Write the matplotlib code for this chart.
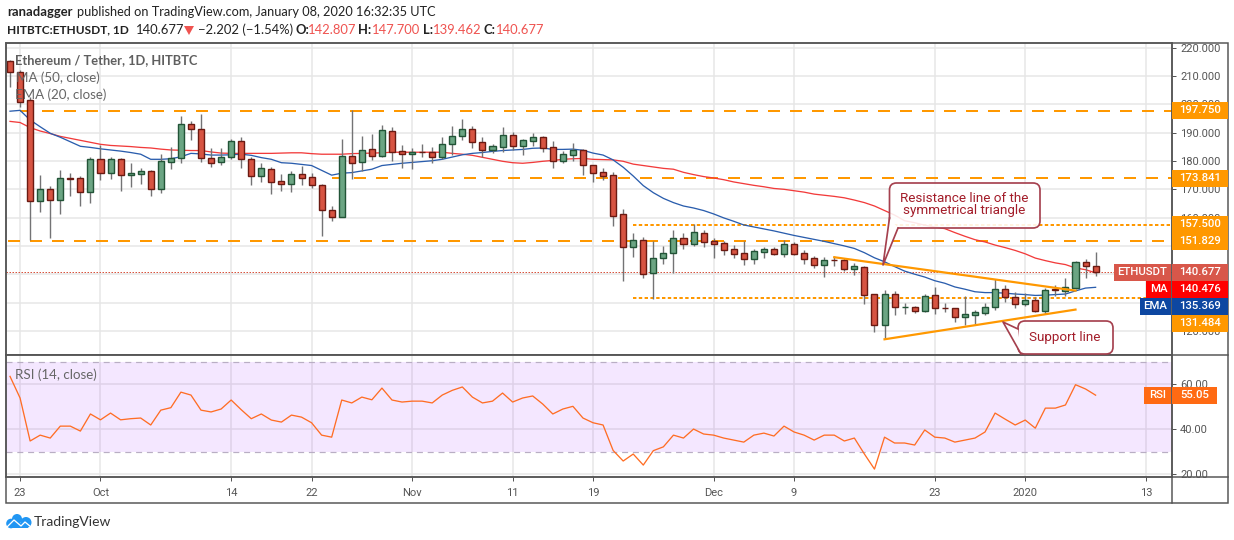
import matplotlib
matplotlib.use("Agg")
import matplotlib.pyplot as plt
from matplotlib.patches import Rectangle, FancyBboxPatch, Polygon, Circle

plt.rcParams['font.family'] = ['Roboto', 'DejaVu Sans']

# daily candles, 22 Sep 2019 to 8 Jan 2020
opens = [215.3, 211.3, 201.4, 165.8, 170.0, 166.1, 173.9, 173.9, 169.2, 180.6, 175.9, 180.6, 175.0, 175.5, 176.5,
         170.2, 179.8, 181.0, 193.0, 191.2, 181.0, 179.8, 181.3, 187.0, 180.6, 174.6, 177.1, 172.8, 172.0, 175.3,
         174.2, 171.4, 162.6, 160.3, 181.7, 179.5, 184.1, 181.7, 190.5, 183.4, 182.4,
         183.2, 183.1, 181.5, 185.9, 188.7, 191.2, 186.6, 183.8, 185.0, 189.1, 185.2, 187.2, 188.4, 184.8, 180.1,
         182.2, 183.8, 178.5, 176.1, 174.9, 161.2, 149.5, 152.0, 140.3, 145.9, 147.6, 152.7, 150.8, 154.4, 151.7,
         150.9, 148.8, 147.4, 145.5, 148.0, 148.8, 147.3, 150.6, 147.4, 145.6,
         143.4, 145.0, 144.9, 142.0, 142.4, 132.9, 121.9, 132.9, 128.4, 128.4, 127.1, 132.5, 128.1, 127.9, 124.9,
         125.7, 126.4, 128.3, 134.6, 131.8, 129.3, 130.8, 127.1, 134.9, 134.2, 135.1, 144.2, 142.807]
highs = [215.7, 212.0, 202.7, 175.0, 171.2, 176.8, 175.9, 174.7, 181.3, 185.7, 181.3, 181.0, 179.3, 177.4, 176.8,
         182.5, 185.0, 195.9, 194.2, 196.6, 184.5, 184.5, 187.7, 188.5, 181.5, 179.2, 178.0, 175.4, 176.5, 178.2,
         175.6, 171.9, 164.1, 187.8, 198.0, 189.0, 189.6, 192.7, 192.0, 185.7, 184.6,
         186.0, 185.0, 188.6, 192.4, 194.8, 192.4, 188.5, 186.0, 192.0, 190.2, 187.7, 189.9, 188.7, 187.0, 183.6,
         186.4, 184.2, 178.5, 177.4, 176.0, 163.0, 154.4, 153.1, 151.8, 150.0, 155.6, 154.4, 157.7, 155.6, 152.7,
         151.8, 150.3, 151.7, 148.9, 149.6, 149.6, 152.0, 151.4, 148.6, 146.4,
         146.0, 146.4, 145.6, 144.1, 142.9, 132.9, 134.4, 134.1, 130.0, 128.7, 133.0, 135.5, 130.0, 128.2, 132.3,
         127.3, 130.0, 138.3, 136.2, 133.6, 133.3, 132.0, 135.0, 136.2, 138.5, 144.7, 145.4, 147.7]
lows = [206.3, 199.0, 152.1, 162.1, 152.9, 161.2, 167.8, 164.2, 165.0, 173.3, 173.6, 169.4, 170.9, 171.9, 167.8,
        168.8, 177.3, 179.2, 187.3, 179.8, 177.8, 178.6, 180.8, 177.6, 171.5, 172.7, 168.5, 169.5, 169.2, 171.5,
        170.6, 153.6, 158.9, 160.3, 173.6, 176.5, 180.4, 181.3, 180.0, 177.6, 177.2,
        181.5, 179.2, 180.6, 182.2, 187.4, 184.7, 181.5, 182.7, 183.2, 183.9, 182.1, 185.3, 183.2, 177.7, 179.3,
        180.1, 175.1, 172.7, 173.3, 157.2, 137.7, 146.2, 138.8, 131.2, 143.7, 140.5, 149.0, 150.1, 149.7, 145.8,
        146.9, 145.8, 143.2, 143.7, 145.8, 146.8, 146.2, 146.8, 143.7, 142.3,
        139.1, 142.9, 141.2, 139.7, 129.5, 119.6, 117.0, 125.6, 125.8, 126.4, 126.8, 126.0, 126.8, 123.2, 122.0,
        122.4, 125.6, 127.3, 130.3, 128.2, 128.9, 126.5, 125.8, 132.4, 132.3, 134.7, 138.8, 139.462]
closes = [211.3, 201.0, 166.0, 170.0, 166.1, 173.9, 173.7, 169.2, 180.6, 175.9, 180.6, 175.0, 175.8, 176.5, 170.2,
          179.9, 181.0, 193.0, 191.2, 181.0, 179.4, 181.3, 187.0, 180.6, 174.6, 177.4, 172.7, 171.9, 175.3, 174.1,
          171.4, 162.6, 160.3, 181.7, 179.4, 183.8, 181.7, 190.8, 183.3, 182.4, 183.2,
          183.1, 181.5, 185.9, 188.7, 191.2, 186.6, 183.8, 185.2, 189.1, 185.2, 187.3, 188.4, 184.7, 180.1, 182.4,
          183.8, 178.5, 175.9, 174.8, 160.7, 149.5, 152.0, 140.0, 145.6, 147.4, 152.7, 150.8, 154.8, 151.5, 150.8,
          148.7, 147.3, 145.5, 148.1, 148.9, 147.3, 150.6, 147.3, 145.5, 143.4,
          144.9, 144.9, 142.0, 142.9, 132.8, 121.9, 132.9, 128.3, 128.5, 127.1, 132.2, 127.9, 128.0, 125.0, 125.9,
          126.6, 128.3, 134.6, 132.0, 129.3, 130.8, 127.1, 134.3, 134.4, 135.4, 144.2, 142.9, 140.677]

ma50 = [194.0, 193.6, 191.8, 190.6, 189.7, 188.7, 188.0, 187.3, 186.6, 185.9, 185.5, 185.3, 185.1, 184.8, 184.6,
        184.2, 183.9, 183.8, 183.7, 183.7, 183.2, 182.8, 182.7, 182.7, 182.7, 182.7, 182.7, 182.8, 182.9, 182.9,
        182.6, 182.4, 182.4, 182.4, 182.6, 182.7, 182.8, 182.9, 183.1, 183.1, 183.1,
        183.1, 183.1, 183.1, 182.7, 182.4, 182.0, 181.3, 180.6, 179.9, 179.4, 179.2, 179.5, 179.9, 180.2, 180.6,
        180.8, 180.9, 180.6, 180.5, 180.4, 179.9, 178.9, 178.4, 177.9, 177.4, 177.1, 176.0, 175.2, 174.5, 174.0,
        173.4, 172.6, 172.0, 171.4, 170.9, 170.3, 170.0, 169.5, 169.0, 168.3,
        167.9, 167.5, 167.0, 166.2, 165.3, 164.1, 162.5, 160.9, 158.9, 158.2, 157.3, 156.7, 156.1, 154.7, 153.4,
        152.2, 151.4, 150.3, 149.4, 148.4, 147.2, 145.7, 144.8, 144.0, 143.4, 142.2, 141.6, 140.476]
ema20 = [197.6, 197.9, 194.5, 192.1, 189.8, 188.4, 186.8, 185.2, 184.8, 184.3, 183.9, 183.5, 183.0, 182.4, 180.6,
         180.6, 180.8, 181.5, 182.7, 182.5, 182.1, 182.1, 182.2, 182.4, 182.0, 181.2, 180.6, 179.4, 179.2, 178.8,
         178.4, 176.7, 175.0, 175.7, 175.9, 176.5, 177.1, 178.4, 178.8, 179.2, 179.5,
         179.8, 180.1, 180.6, 181.4, 182.2, 182.7, 183.0, 183.4, 183.7, 183.9, 184.1, 184.5, 184.6, 184.1, 184.1,
         184.2, 183.8, 182.8, 182.1, 180.4, 177.8, 174.7, 171.3, 168.8, 166.8, 165.3, 164.1, 163.4, 162.5, 161.3,
         159.9, 158.7, 157.4, 156.7, 156.0, 155.3, 154.5, 153.7, 153.0, 152.3,
         151.6, 150.8, 150.0, 149.1, 147.6, 145.8, 144.4, 142.7, 141.1, 140.0, 139.0, 137.7, 136.8, 135.5, 134.7,
         133.8, 133.5, 133.5, 133.3, 133.0, 132.8, 132.5, 132.6, 132.8, 133.0, 134.1, 135.1, 135.369]
rsi = [63.4, 53.8, 34.7, 37.3, 36.0, 41.3, 41.3, 39.1, 46.7, 44.1, 47.1, 44.1, 44.6, 44.9, 41.8, 48.4, 49.5, 56.4,
       55.1, 48.4, 47.6, 48.9, 52.9, 48.6, 44.6, 46.7, 44.0, 43.1, 46.2, 45.3, 42.8, 37.3, 36.4, 52.9, 51.6, 54.2,
       53.0, 58.2, 52.9, 52.0, 52.4, 52.4, 51.6, 55.1, 57.2, 58.7, 54.2, 51.6, 52.4, 56.0, 52.0, 53.8, 54.7, 51.1,
       46.7, 48.9, 50.1, 44.9, 42.8, 41.8, 30.5, 25.8, 28.9, 24.0, 30.4, 32.1, 37.3, 36.0, 40.0, 37.8, 37.3, 36.0,
       35.1, 34.2, 37.3, 38.2, 36.9, 41.3, 38.7, 37.3, 35.1, 37.3, 37.3, 34.7, 36.0, 28.9, 22.2, 36.4, 33.8, 33.8,
       32.9, 39.6, 36.4, 36.0, 34.2, 35.1, 36.0, 38.7, 47.1, 44.4, 41.8, 44.0, 40.4, 49.3, 49.3, 50.7, 59.7, 57.8,
       55.05]

# tick positions in days after 22 Sep
tick_days = [1, 9, 22, 30, 40, 50, 58, 70, 78, 92, 101, 113]
tick_names = ['23', 'Oct', '14', '22', 'Nov', '11', '19', 'Dec', '9', '23', '2020', '13']
price_ticks = [120, 130, 140, 150, 160, 170, 180, 190, 200, 210, 220]
# 130-150 sit fully behind the price tags in the reference
price_labels = ['120.000', '', '', '', '160.000', '170.000', '180.000', '190.000', '200.000', '210.000', '220.000']
rsi_ticks = [20, 40, 60]

# horizontal levels: price, first day
long_levels = [(197.750, 1), (173.841, 32), (151.829, -0.2)]
short_levels = [(157.500, 62), (131.484, 62)]
resist_days = [82, 106]
resist_vals = [146.0, 134.2]
support_days = [87, 106]
support_vals = [117.0, 127.5]
last_close = 140.677

W, H = 1234, 540
GREEN, GREEN_E = '#6ba583', '#225437'
RED, RED_E = '#d75442', '#6b1a12'
WICK = '#737375'
ORANGE = '#ff9800'
AXC = '#555555'
GRID = '#e6e6e6'
PX = 0.72  # one pixel in points at 100 dpi
HEAD = ['Lato', 'DejaVu Sans']


def axes_px(left, top, right, bottom):
    return fig.add_axes([left / W, 1 - bottom / H, (right - left) / W, (bottom - top) / H])


fig = plt.figure(figsize=(W / 100, H / 100), dpi=100)

ax1 = axes_px(6, 43, 1172, 355)
ax2 = axes_px(6, 355, 1172, 477)

for ax in (ax1, ax2):
    ax.set_xlim(-0.4, 115.6)
    ax.set_xticks(tick_days)
    ax.set_axisbelow(True)
    ax.grid(True, color=GRID, lw=1.5 * PX)
    ax.yaxis.tick_right()
    ax.tick_params(axis='y', length=4 * PX, width=PX, color=AXC, labelcolor=AXC, labelsize=8, pad=3)
    for s in ax.spines.values():
        s.set_color(AXC)
        s.set_linewidth(1.5 * PX)

# price pane
ax1.set_ylim(111.45, 221.7)
ax1.set_yticks(price_ticks)
ax1.set_yticklabels(price_labels)
ax1.tick_params(axis='x', length=0, labelbottom=False)

for level, start in long_levels:
    ax1.plot([start, 115.6], [level, level], color=ORANGE, lw=2 * PX, ls=(0, (6, 5)), zorder=2)
for level, start in short_levels:
    ax1.plot([start, 115.6], [level, level], color=ORANGE, lw=2 * PX, ls=(0, (1.7, 1.2)), zorder=2)
ax1.axhline(last_close, color='#d8543f', lw=PX, ls=(0, (1.5, 1.5)), zorder=2)

days = list(range(len(closes)))
ax1.plot(days, ma50, color='#f23b3b', lw=1.3 * PX, zorder=2.5)
ax1.plot(days, ema20, color='#2a5dad', lw=1.3 * PX, zorder=2.5)

up = [c >= o for o, c in zip(opens, closes)]
ax1.vlines(days, lows, highs, color=WICK, lw=1.4 * PX, zorder=3)
ax1.bar(days, [abs(c - o) for o, c in zip(opens, closes)], bottom=[min(o, c) for o, c in zip(opens, closes)],
        width=0.6, color=[GREEN if u else RED for u in up], edgecolor=[GREEN_E if u else RED_E for u in up],
        linewidth=1.4 * PX, zorder=3.2)

ax1.plot(resist_days, resist_vals, color=ORANGE, lw=2.2 * PX, zorder=4)
ax1.plot(support_days, support_vals, color=ORANGE, lw=2.2 * PX, zorder=4)

# RSI pane
ax2.set_ylim(18.7, 72.9)
ax2.set_yticks(rsi_ticks)
ax2.set_yticklabels(['%.2f' % v for v in rsi_ticks])
ax2.set_xticklabels(tick_names)
ax2.tick_params(axis='x', length=4 * PX, width=PX, color=AXC, labelcolor=AXC, labelsize=8, pad=5)
ax2.axhspan(30, 70, color='#9915ff', alpha=0.1, lw=0, zorder=1)
ax2.axhline(70, color='#b9aec4', lw=1.2 * PX, ls=(0, (5, 4)), zorder=1.5)
ax2.axhline(30, color='#b9aec4', lw=1.2 * PX, ls=(0, (5, 4)), zorder=1.5)
ax2.plot(days, rsi, color='#ff6d24', lw=1.3 * PX, zorder=3)

# everything else sits on a pixel overlay
ov = fig.add_axes([0, 0, 1, 1], facecolor='none')
ov.set_xlim(0, W)
ov.set_ylim(H, 0)
ov.axis('off')

ov.add_patch(Rectangle((1173, 478), 55, 25, fc='white', ec='none', zorder=1))
ov.add_patch(Rectangle((6, 43), 1222, 460, fc='none', ec=AXC, lw=1.5 * PX, zorder=2))
ov.plot([1172, 1172], [43, 503], color=AXC, lw=1.5 * PX, zorder=2)
ov.plot([6, 1228], [355, 355], color=AXC, lw=1.5 * PX, zorder=2)
ov.plot([6, 1228], [477, 477], color=AXC, lw=1.5 * PX, zorder=2)


def tag(x0, x1, y0, y1, color, label):
    ov.add_patch(Rectangle((x0, y0), x1 - x0, y1 - y0, fc=color, ec='none', zorder=3))
    ov.text((x0 + x1) / 2, (y0 + y1) / 2 - 0.5, label, color='white', fontsize=8.2, ha='center', va='center',
            fontweight='medium', zorder=4)


tag(1172, 1228, 102, 119, ORANGE, '197.750')
tag(1172, 1228, 170, 187, ORANGE, '173.841')
tag(1172, 1228, 216, 233, ORANGE, '157.500')
tag(1172, 1228, 233, 250, ORANGE, '151.829')
tag(1172, 1228, 264, 281, '#d8574a', '140.677')
tag(1114, 1171, 264, 281, '#d8574a', 'ETHUSDT')
tag(1172, 1228, 281, 298, '#ff0000', '140.476')
tag(1146, 1171, 281, 298, '#ff0000', 'MA')
tag(1172, 1228, 298, 315, '#0d47a1', '135.369')
tag(1140, 1171, 298, 315, '#0d47a1', 'EMA')
tag(1172, 1228, 315, 332, ORANGE, '131.484')
tag(1172, 1217, 387, 404, '#ff6a13', '55.05')
tag(1144, 1171, 387, 404, '#ff6a13', 'RSI')

# pane legends
ov.text(15, 60, 'Ethereum / Tether, 1D, HITBTC', color='#5f5f5f', fontsize=9.3, fontweight='bold', family=HEAD,
        va='center', zorder=5)
ov.text(16, 78, 'MA (50, close)', color='#666666', fontsize=9.6, family=HEAD, va='center', zorder=5)
ov.text(15, 95, 'EMA (20, close)', color='#666666', fontsize=9.6, family=HEAD, va='center', zorder=5)
ov.text(15, 375, 'RSI (14, close)', color='#666666', fontsize=9.6, family=HEAD, va='center', zorder=5)


def callout(x0, y0, x1, y1, wedge, text_xy, label):
    edge = '#a5404e'
    ov.add_patch(FancyBboxPatch((x0 + 7, y0 + 7), x1 - x0 - 14, y1 - y0 - 14, boxstyle='round,pad=7,rounding_size=7',
                                fc=(1, 1, 1, 0.88), ec=edge, lw=1.7 * PX, zorder=6))
    ov.add_patch(Polygon(wedge, closed=True, fc='white', ec='none', zorder=6.1))
    ov.plot([wedge[0][0], wedge[1][0], wedge[2][0]], [wedge[0][1], wedge[1][1], wedge[2][1]], color=edge,
            lw=1.7 * PX, zorder=6.2)
    ov.text(text_xy[0], text_xy[1], label, color='#a31d2a', fontsize=9.7, ha='center', va='center',
            linespacing=0.95, zorder=7)


callout(889.5, 183, 1040, 228, [(889.5, 218), (883, 265), (898, 228)], (964, 204.5),
        'Resistance line of the\nsymmetrical triangle')
callout(1018, 321, 1113, 354, [(1018, 329), (1003, 322), (1021, 354)], (1065, 337), 'Support line')

# header
HC = '#222222'
head = dict(color=HC, va='center', family=HEAD)
ov.text(7, 12, 'ranadagger', fontweight='bold', fontsize=9.4, **head)
ov.text(77, 12, 'published on TradingView.com, January 08, 2020 16:32:35 UTC', fontsize=9.15, **head)
ov.text(7, 30, 'HITBTC:ETHUSDT, 1D', fontweight='bold', fontsize=8.6, **head)
ov.text(136, 30, '140.677', fontsize=9.4, **head)
ov.add_patch(Polygon([(184, 26), (194, 26), (189, 35)], closed=True, fc='#ef5350', ec='none'))
ov.text(198, 30, '\u22122.202 (\u22121.54%)', fontsize=9.4, **head)
for x_key, key, x_val, val in [(295, 'O:', 308, '142.807'), (358, 'H:', 372, '147.700'),
                               (423, 'L:', 433, '139.462'), (483, 'C:', 496, '140.677')]:
    ov.text(x_key, 30, key, fontweight='bold', fontsize=9.4, **head)
    ov.text(x_val, 30, val, color='#ef5350', fontsize=9.4, va='center', family=HEAD)

# logo: a cloud with a white zigzag
LOGO = '#2196f3'
ov.add_patch(Circle((11, 523.5), 4.8, fc=LOGO, ec='none'))
ov.add_patch(Circle((17, 519), 5, fc=LOGO, ec='none'))
ov.add_patch(Circle((26, 522.5), 5.5, fc=LOGO, ec='none'))
ov.add_patch(Rectangle((10, 523), 18, 5, fc=LOGO, ec='none'))
ov.plot([7, 14, 21, 25, 31], [527, 520, 526, 522, 527], color='white', lw=1.3 * PX, zorder=3)
ov.text(34, 522, 'TradingView', color='#333333', fontsize=10, family=HEAD, va='center')

fig.savefig('out.png', dpi=100)
